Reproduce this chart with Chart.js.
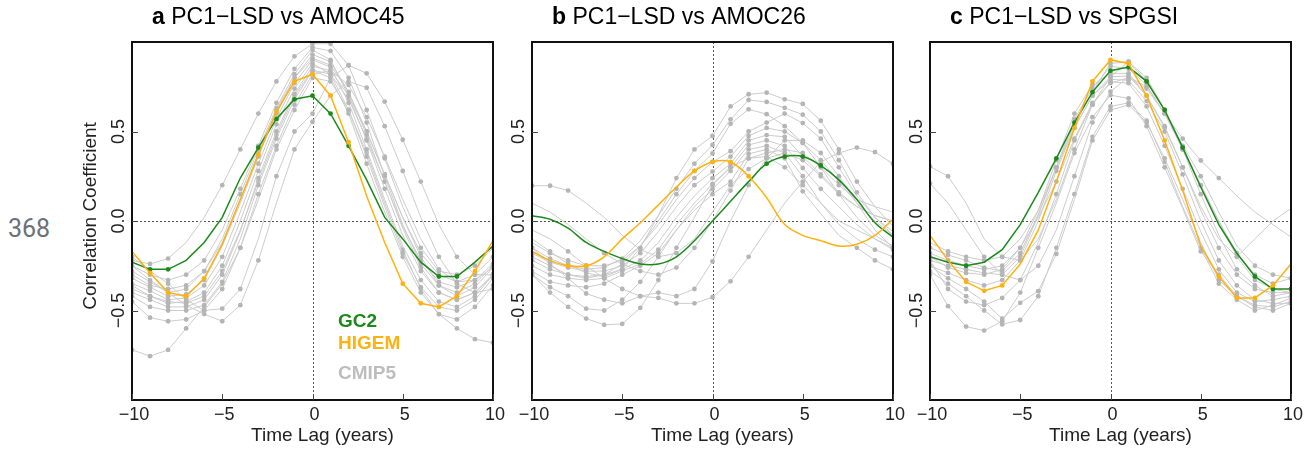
<!DOCTYPE html>
<html>
<head>
<meta charset="utf-8">
<script src="https://cdn.jsdelivr.net/npm/chart.js@4"></script>
<style>
  body { margin: 0; background: #fff; width: 1316px; height: 450px; position: relative; overflow: hidden; }
  .panel { position: absolute; top: 0; }
  #lineNo { position: absolute; left: 8px; top: 214px; font: 25px Roboto, sans-serif; color: #6b7079; }
</style>
</head>
<body>
<div id="lineNo">368</div>
<div class="panel" style="left:32px"><canvas id="chartA" width="480" height="450"></canvas></div>
<div class="panel" style="left:432px"><canvas id="chartB" width="480" height="450"></canvas></div>
<div class="panel" style="left:830px"><canvas id="chartC" width="480" height="450"></canvas></div>
<script>
// time lags (years) and axis ticks
const lags = [-10,-9,-8,-7,-6,-5,-4,-3,-2,-1,0,1,2,3,4,5,6,7,8,9,10];
const xTicks = [-10, -5, 0, 5, 10];
const yTicks = [-0.5, 0, 0.5];

// --- a: PC1-LSD vs AMOC45 ---
const gc2A   = [-0.23,-0.27,-0.27,-0.22,-0.12,0.02,0.24,0.41,0.57,0.68,0.70,0.60,0.42,0.23,0.02,-0.10,-0.23,-0.31,-0.31,-0.23,-0.14];
const higemA = [-0.17,-0.29,-0.40,-0.42,-0.32,-0.13,0.12,0.37,0.61,0.78,0.82,0.70,0.44,0.14,-0.12,-0.35,-0.46,-0.48,-0.42,-0.28,-0.11];
const cmipA = [
  [-0.22,-0.24,-0.21,-0.12,0.02,0.20,0.40,0.60,0.78,0.92,0.99,0.99,0.87,0.62,0.35,0.08,-0.15,-0.28,-0.30,-0.25,-0.15],
  [-0.25,-0.30,-0.33,-0.30,-0.22,-0.05,0.18,0.42,0.66,0.85,0.97,0.95,0.80,0.55,0.25,-0.02,-0.24,-0.36,-0.40,-0.35,-0.25],
  [-0.28,-0.34,-0.40,-0.38,-0.28,-0.10,0.15,0.40,0.63,0.82,0.955,0.90,0.70,0.45,0.18,-0.08,-0.28,-0.40,-0.44,-0.40,-0.30],
  [-0.32,-0.37,-0.42,-0.41,-0.33,-0.14,0.10,0.36,0.60,0.80,0.93,0.89,0.72,0.48,0.22,-0.03,-0.22,-0.34,-0.37,-0.33,-0.24],
  [-0.35,-0.39,-0.44,-0.43,-0.36,-0.20,0.05,0.32,0.57,0.77,0.90,0.86,0.66,0.40,0.12,-0.14,-0.33,-0.45,-0.48,-0.42,-0.30],
  [-0.38,-0.42,-0.46,-0.45,-0.40,-0.25,0.00,0.28,0.54,0.74,0.88,0.82,0.62,0.36,0.08,-0.18,-0.37,-0.48,-0.50,-0.44,-0.32],
  [-0.40,-0.44,-0.48,-0.48,-0.44,-0.30,-0.06,0.24,0.50,0.71,0.865,0.84,0.70,0.50,0.26,0.02,-0.18,-0.30,-0.34,-0.30,-0.20],
  [-0.42,-0.48,-0.50,-0.50,-0.47,-0.34,-0.10,0.20,0.46,0.68,0.84,0.80,0.60,0.32,0.05,-0.20,-0.40,-0.52,-0.55,-0.48,-0.36],
  [-0.45,-0.54,-0.56,-0.55,-0.50,-0.38,-0.15,0.15,0.42,0.65,0.82,0.84,0.76,0.58,0.36,0.12,-0.10,-0.27,-0.34,-0.33,-0.26],
  [-0.72,-0.755,-0.72,-0.60,-0.48,-0.35,-0.15,0.12,0.40,0.62,0.80,0.78,0.62,0.38,0.10,-0.16,-0.38,-0.52,-0.60,-0.66,-0.68],
  [-0.25,-0.33,-0.40,-0.47,-0.52,-0.56,-0.47,-0.22,0.10,0.40,0.555,0.70,0.78,0.745,0.53,0.28,0.02,-0.20,-0.35,-0.40,-0.38],
  [-0.20,-0.28,-0.35,-0.44,-0.50,-0.49,-0.38,-0.10,0.25,0.50,0.60,0.80,0.87,0.825,0.667,0.454,0.22,-0.02,-0.20,-0.30,-0.30],
  [-0.30,-0.36,-0.38,-0.36,-0.28,-0.12,0.12,0.38,0.62,0.80,0.91,0.87,0.72,0.50,0.26,0.02,-0.20,-0.36,-0.42,-0.37,-0.26],
  [-0.36,-0.42,-0.45,-0.46,-0.42,-0.28,-0.05,0.22,0.48,0.70,0.843,0.82,0.68,0.46,0.22,-0.04,-0.26,-0.40,-0.44,-0.40,-0.30]
];

// --- b: PC1-LSD vs AMOC26 ---
const gc2B   = [0.03,0.01,-0.04,-0.12,-0.17,-0.21,-0.24,-0.24,-0.20,-0.11,0.00,0.11,0.22,0.32,0.36,0.36,0.31,0.23,0.12,-0.01,-0.09];
const higemB = [-0.17,-0.22,-0.25,-0.25,-0.20,-0.10,-0.01,0.09,0.19,0.28,0.33,0.33,0.25,0.13,-0.02,-0.08,-0.11,-0.14,-0.13,-0.08,0.01];
const cmipB = [
  [-0.10,-0.17,-0.24,-0.29,-0.31,-0.27,-0.15,0.03,0.24,0.40,0.475,0.64,0.708,0.717,0.68,0.654,0.56,0.40,0.22,0.08,-0.03],
  [-0.15,-0.21,-0.25,-0.27,-0.26,-0.21,-0.11,0.03,0.18,0.32,0.425,0.568,0.676,0.665,0.632,0.594,0.50,0.34,0.16,0.02,-0.08],
  [-0.20,-0.25,-0.30,-0.32,-0.30,-0.24,-0.14,0.00,0.15,0.28,0.378,0.543,0.624,0.597,0.53,0.436,0.30,0.15,0.02,-0.08,-0.14],
  [-0.12,-0.18,-0.22,-0.25,-0.25,-0.22,-0.14,-0.02,0.12,0.24,0.33,0.39,0.50,0.55,0.60,0.547,0.46,0.30,0.14,0.02,-0.06],
  [-0.18,-0.23,-0.26,-0.28,-0.28,-0.25,-0.18,-0.06,0.08,0.20,0.276,0.36,0.475,0.52,0.50,0.436,0.34,0.22,0.10,0.00,-0.08],
  [-0.22,-0.27,-0.30,-0.31,-0.30,-0.27,-0.22,-0.12,0.02,0.14,0.239,0.32,0.45,0.48,0.47,0.361,0.26,0.16,0.08,0.03,0.00],
  [-0.25,-0.30,-0.32,-0.33,-0.32,-0.28,-0.24,-0.16,-0.02,0.10,0.207,0.30,0.425,0.45,0.42,0.296,0.18,0.08,-0.02,-0.10,-0.16],
  [-0.28,-0.34,-0.36,-0.37,-0.35,-0.30,-0.25,-0.18,-0.05,0.08,0.177,0.28,0.40,0.42,0.38,0.25,0.10,-0.02,-0.10,-0.16,-0.20],
  [-0.30,-0.37,-0.42,-0.49,-0.50,-0.44,-0.34,-0.20,-0.05,0.06,0.15,0.22,0.375,0.40,0.35,0.166,0.04,-0.08,-0.15,-0.22,-0.27],
  [-0.30,-0.40,-0.48,-0.545,-0.58,-0.575,-0.485,-0.33,-0.15,0.02,0.20,0.30,0.35,0.36,0.30,0.20,0.10,0.00,-0.05,-0.10,-0.15],
  [-0.05,-0.10,-0.17,-0.25,-0.32,-0.38,-0.42,-0.43,-0.46,-0.46,-0.426,-0.337,-0.20,-0.05,0.10,0.22,0.33,0.38,0.41,0.385,0.32],
  [0.197,0.197,0.17,0.10,0.02,-0.08,-0.16,-0.20,-0.18,-0.10,0.05,0.20,0.29,0.35,0.38,0.34,0.25,0.15,0.08,0.03,0.00],
  [0.10,0.05,-0.02,-0.10,-0.18,-0.24,-0.28,-0.30,-0.26,-0.15,0.00,0.17,0.35,0.38,0.40,0.38,0.30,0.20,0.12,0.08,0.05],
  [-0.15,-0.24,-0.32,-0.405,-0.44,-0.46,-0.42,-0.40,-0.42,-0.38,-0.225,0.00,0.20,0.35,0.45,0.45,0.38,0.25,0.10,-0.05,-0.15]
];

// --- c: PC1-LSD vs SPGSI ---
const gc2C   = [-0.20,-0.23,-0.25,-0.23,-0.16,-0.02,0.16,0.35,0.55,0.72,0.84,0.86,0.78,0.62,0.41,0.19,-0.02,-0.18,-0.31,-0.38,-0.38];
const higemC = [-0.08,-0.22,-0.34,-0.39,-0.36,-0.24,-0.05,0.22,0.52,0.78,0.90,0.88,0.70,0.45,0.17,-0.14,-0.31,-0.43,-0.43,-0.36,-0.24];
const cmipC = [
  [0.305,0.25,0.10,-0.10,-0.20,-0.22,-0.10,0.12,0.40,0.65,0.806,0.89,0.80,0.62,0.42,0.25,0.05,-0.14,-0.25,-0.30,-0.32],
  [0.21,0.10,-0.05,-0.20,-0.30,-0.33,-0.25,-0.05,0.25,0.55,0.722,0.806,0.75,0.60,0.40,0.20,0.00,-0.18,-0.30,-0.35,-0.32],
  [-0.15,-0.19,-0.22,-0.26,-0.28,-0.18,0.04,0.30,0.57,0.74,0.865,0.85,0.76,0.60,0.41,0.20,0.00,-0.20,-0.33,-0.38,-0.40],
  [-0.20,-0.26,-0.29,-0.30,-0.27,-0.15,0.06,0.34,0.60,0.76,0.825,0.825,0.70,0.53,0.30,0.06,-0.15,-0.30,-0.38,-0.40,-0.40],
  [-0.25,-0.29,-0.33,-0.36,-0.33,-0.22,0.00,0.28,0.52,0.70,0.791,0.787,0.67,0.50,0.26,0.00,-0.22,-0.36,-0.44,-0.46,-0.46],
  [-0.22,-0.38,-0.45,-0.47,-0.43,-0.33,-0.12,0.15,0.45,0.65,0.778,0.77,0.64,0.42,0.18,-0.06,-0.27,-0.40,-0.45,-0.44,-0.42],
  [-0.30,-0.476,-0.59,-0.612,-0.56,-0.40,-0.15,0.10,0.38,0.58,0.703,0.685,0.53,0.30,0.07,-0.17,-0.30,-0.42,-0.48,-0.50,-0.46],
  [-0.25,-0.32,-0.38,-0.45,-0.546,-0.457,-0.392,-0.184,0.12,0.45,0.62,0.648,0.55,0.35,0.12,-0.12,-0.33,-0.42,-0.47,-0.48,-0.45],
  [-0.28,-0.35,-0.42,-0.50,-0.578,-0.553,-0.42,-0.15,0.15,0.47,0.64,0.66,0.56,0.33,0.08,-0.15,-0.35,-0.44,-0.50,-0.47,-0.43],
  [-0.18,-0.22,-0.25,-0.27,-0.25,-0.15,0.02,0.22,0.46,0.66,0.77,0.80,0.74,0.60,0.46,0.338,0.24,0.14,0.05,-0.02,-0.09],
  [-0.12,-0.17,-0.20,-0.22,-0.20,-0.10,0.06,0.30,0.52,0.70,0.806,0.81,0.70,0.52,0.30,0.08,-0.10,-0.20,-0.10,0.00,0.07],
  [-0.22,-0.25,-0.27,-0.29,-0.30,-0.20,0.03,0.30,0.54,0.72,0.88,0.89,0.78,0.62,0.40,0.15,-0.08,-0.27,-0.36,-0.42,-0.40]
];

const GREEN = "#1b8a1b";
const ORANGE = "#ffb10f";
const FONT = "'Liberation Sans', Arial, Helvetica, sans-serif";

const fmtX = v => (v < 0 ? "\u2212" : "") + Math.abs(v);
const fmtY = v => (v < 0 ? "\u2212" : "") + Math.abs(v).toFixed(1);

// box, inward ticks, zero lines and all the texts
const frame = {
  id: "frame",
  beforeDatasetsDraw(chart) {
    const { ctx, chartArea: a, scales: { x, y } } = chart;
    const x0 = Math.round(x.getPixelForValue(0)) + 0.5;
    const y0 = Math.round(y.getPixelForValue(0)) + 0.5;
    ctx.save();
    ctx.strokeStyle = "#555";
    ctx.lineWidth = 1;
    ctx.setLineDash([2, 2]);
    ctx.beginPath();
    ctx.moveTo(a.left, y0); ctx.lineTo(a.right, y0);
    ctx.moveTo(x0, a.top); ctx.lineTo(x0, a.bottom);
    ctx.stroke();
    ctx.restore();
  },
  afterDraw(chart, args, o) {
    const { ctx, chartArea: a, scales: { x, y } } = chart;
    ctx.save();
    // box
    ctx.strokeStyle = "#111";
    ctx.lineWidth = 2;
    ctx.strokeRect(a.left, a.top, a.right - a.left, a.bottom - a.top);
    // ticks pointing inwards
    ctx.lineWidth = 1;
    ctx.strokeStyle = "#444";
    ctx.beginPath();
    xTicks.forEach(v => {
      const px = Math.round(x.getPixelForValue(v)) + 0.5;
      ctx.moveTo(px, a.bottom); ctx.lineTo(px, a.bottom - 6);
    });
    yTicks.forEach(v => {
      const py = Math.round(y.getPixelForValue(v)) + 0.5;
      ctx.moveTo(a.left, py); ctx.lineTo(a.left + 6, py);
    });
    ctx.stroke();

    ctx.fillStyle = "#222";
    ctx.font = "18px " + FONT;
    ctx.textAlign = "center";
    ctx.textBaseline = "middle";
    xTicks.forEach(v => ctx.fillText(fmtX(v), x.getPixelForValue(v) + 2, a.bottom + 15));
    ctx.font = "19px " + FONT;
    ctx.fillText("Time Lag (years)", (a.left + a.right) / 2 + 10, a.bottom + 36);

    // rotated y tick labels
    ctx.font = "18px " + FONT;
    yTicks.forEach(v => {
      ctx.save();
      ctx.translate(a.left - 13, y.getPixelForValue(v));
      ctx.rotate(-Math.PI / 2);
      ctx.fillText(fmtY(v), 0, 0);
      ctx.restore();
    });
    if (o.yTitle) {
      ctx.save();
      ctx.font = "19px " + FONT;
      ctx.translate(a.left - 41, 216);
      ctx.rotate(-Math.PI / 2);
      ctx.fillText("Correlation Coefficient", 0, 0);
      ctx.restore();
    }

    // panel title: bold letter + plain text
    ctx.textAlign = "left";
    ctx.font = "bold 23px " + FONT;
    const tx = a.left + 20;
    ctx.fillStyle = "#000";
    ctx.fillText(o.letter, tx, 18);
    const w = ctx.measureText(o.letter + " ").width;
    ctx.font = "23px " + FONT;
    ctx.fillText(o.title, tx + w, 18);

    if (o.legend) {
      ctx.font = "bold 19px " + FONT;
      ctx.fillStyle = GREEN;
      ctx.fillText("GC2", a.left + 206, a.top + 280);
      ctx.fillStyle = ORANGE;
      ctx.fillText("HIGEM", a.left + 206, a.top + 302);
      ctx.fillStyle = "#bdbdbd";
      ctx.fillText("CMIP5", a.left + 206, a.top + 332);
    }
    ctx.restore();
  }
};

function series(vals, color, dotColor, width, sig, tension) {
  return {
    data: vals.map((v, i) => ({ x: lags[i], y: v })),
    borderColor: color,
    backgroundColor: dotColor,
    borderWidth: width,
    pointBorderWidth: 0,
    pointRadius: c => (Math.abs(c.raw.y) >= sig ? 2.4 : 0),
    tension: tension,
    clip: 0
  };
}

function makePanel(id, letter, title, gc2, higem, cmip, extra) {
  const t = extra.tension || 0;
  const datasets = [
    series(higem, ORANGE, ORANGE, 1.5, 0.245, t),
    series(gc2, GREEN, GREEN, 1.5, 0.245, t),
    ...cmip.map(c => series(c, "#cccccc", "#b5b5b5", 1, 0.15, 0))
  ];
  return new Chart(document.getElementById(id), {
    type: "line",
    data: { datasets },
    plugins: [frame],
    options: {
      responsive: false,
      animation: false,
      layout: { padding: { left: 100, right: 19, top: 42, bottom: 50 } },
      scales: {
        x: { type: "linear", min: -10, max: 10, display: false },
        y: { min: -1, max: 1, display: false }
      },
      plugins: {
        legend: { display: false },
        tooltip: { enabled: false },
        frame: { letter, title, yTitle: !!extra.yTitle, legend: !!extra.legend }
      }
    }
  });
}

const chartA = makePanel("chartA", "a", "PC1\u2212LSD vs AMOC45", gc2A, higemA, cmipA, { yTitle: true, legend: true });
const chartB = makePanel("chartB", "b", "PC1\u2212LSD vs AMOC26", gc2B, higemB, cmipB, { tension: 0.35 });
const chartC = makePanel("chartC", "c", "PC1\u2212LSD vs SPGSI", gc2C, higemC, cmipC, {});
</script>
</body>
</html>
